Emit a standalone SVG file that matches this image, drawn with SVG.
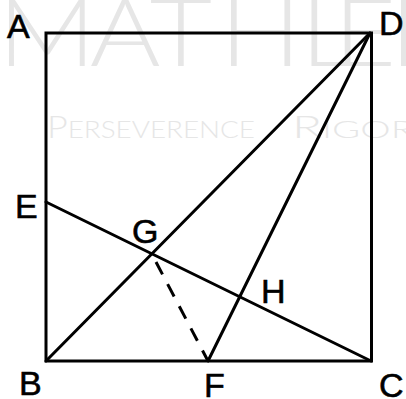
<svg xmlns="http://www.w3.org/2000/svg" width="406" height="399" viewBox="0 0 406 399">
<style>
.wm{fill:#e6e6e6;font-family:Lato,"Liberation Sans",sans-serif;font-weight:300}
.lbl{font-family:"Liberation Sans",Arial,sans-serif;font-size:34px;fill:#000;stroke:#000;stroke-width:0.6}
.ln{stroke:#000;stroke-width:3;fill:none;stroke-linecap:round}
.dash{stroke-dasharray:14 11;stroke-linecap:butt}
</style>
<rect width="406" height="399" fill="#fff"/>
<g id="watermark">
<text class="wm" font-size="94" y="66" transform="scale(1.15,1)" x="-2 78 130 191 261 290 339">MATHLEP</text>
<text class="wm" y="138" x="47" font-size="24" textLength="208" lengthAdjust="spacingAndGlyphs"><tspan font-size="31">P</tspan>ERSEVERENCE</text>
<text class="wm" y="138" x="292" font-size="24" textLength="122" lengthAdjust="spacingAndGlyphs"><tspan font-size="31">R</tspan>IGOR</text>
</g>
<g id="connectors">
<rect class="ln" x="46" y="33" width="325.5" height="328"/>
<line class="ln" x1="46" y1="361" x2="370" y2="33"/>
<line class="ln" x1="370" y1="33" x2="208" y2="361"/>
<line class="ln" x1="46" y1="202" x2="371" y2="361"/>
<line class="ln dash" x1="156" y1="262" x2="208" y2="361"/>
</g>
<g id="node-A"><text class="lbl" x="7" y="38">A</text></g>
<g id="node-D"><text class="lbl" x="379" y="35">D</text></g>
<g id="node-E"><text class="lbl" x="15" y="218">E</text></g>
<g id="node-G"><text class="lbl" x="132" y="243">G</text></g>
<g id="node-H"><text class="lbl" x="261" y="303">H</text></g>
<g id="node-B"><text class="lbl" x="19" y="395">B</text></g>
<g id="node-F"><text class="lbl" x="204" y="397">F</text></g>
<g id="node-C"><text class="lbl" x="379" y="397">C</text></g>
</svg>
